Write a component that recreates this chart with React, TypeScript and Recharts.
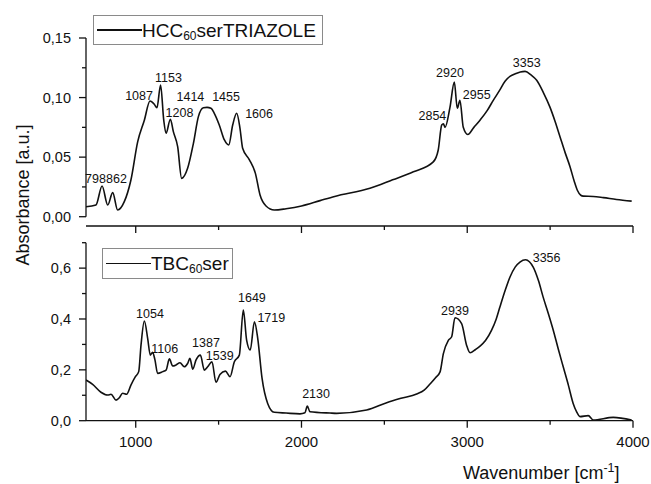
import { LineChart, Line, XAxis, YAxis, ReferenceDot, ReferenceLine } from "recharts";

// HCC60serTRIAZOLE spectrum (upper panel)
const topWavenumbers = [
  700, 760, 797, 831, 861, 891, 931, 971, 1012, 1052, 1086, 1112, 1128, 1150, 1169, 1183,
  1209, 1227, 1253, 1277, 1313, 1348, 1378, 1408, 1430, 1454, 1474, 1504, 1535, 1561, 1585,
  1609, 1629, 1645, 1685, 1722, 1750, 1786, 1836, 1907, 2000, 2112, 2200, 2413, 2550, 2675,
  2795, 2825, 2846, 2856, 2866, 2896, 2922, 2940, 2956, 2976, 3003, 3040, 3077, 3120, 3157,
  3195, 3228, 3260, 3290, 3320, 3349, 3385, 3419, 3460, 3499, 3530, 3560, 3590, 3620, 3645,
  3665, 3685, 3700, 3760, 3821, 3900, 3992,
];
const topAbsorbance = [
  0.0084, 0.0098, 0.0258, 0.0098, 0.0202, 0.0056, 0.0126, 0.0308, 0.063, 0.081, 0.0971, 0.0944,
  0.0915, 0.1106, 0.081, 0.07, 0.0818, 0.0714, 0.0588, 0.0322, 0.0406, 0.0616, 0.084, 0.0915,
  0.0918, 0.091, 0.0868, 0.077, 0.0644, 0.0602, 0.077, 0.0868, 0.0742, 0.0574, 0.048, 0.0364,
  0.0182, 0.009, 0.0056, 0.0067, 0.009, 0.0135, 0.017, 0.0238, 0.031, 0.0377, 0.046, 0.056,
  0.077, 0.078, 0.075, 0.092, 0.113, 0.091, 0.0977, 0.075, 0.069, 0.075, 0.081, 0.089, 0.0977,
  0.106, 0.1137, 0.118, 0.12, 0.1215, 0.122, 0.119, 0.1145, 0.104, 0.092, 0.08, 0.067, 0.054,
  0.042, 0.03, 0.022, 0.018, 0.0173, 0.017, 0.016, 0.0145, 0.0131,
];

// TBC60ser spectrum (lower panel)
const bottomWavenumbers = [
  700, 740, 790, 831, 851, 881, 901, 921, 945, 971, 998, 1018, 1032, 1052, 1072, 1088, 1102,
  1116, 1132, 1163, 1183, 1203, 1223, 1243, 1267, 1293, 1313, 1327, 1344, 1364, 1390, 1414,
  1434, 1460, 1484, 1508, 1541, 1569, 1595, 1625, 1649, 1669, 1691, 1716, 1736, 1762, 1796,
  1836, 1907, 1991, 2021, 2035, 2051, 2172, 2212, 2393, 2514, 2600, 2695, 2740, 2775, 2810,
  2836, 2856, 2886, 2906, 2926, 2966, 2996, 3017, 3050, 3077, 3110, 3147, 3175, 3197, 3230,
  3258, 3290, 3318, 3352, 3375, 3398, 3430, 3458, 3490, 3519, 3550, 3579, 3610, 3639, 3660,
  3680, 3730, 3760, 3881, 3992,
];
const bottomAbsorbance = [
  0.16, 0.143, 0.112, 0.101, 0.104, 0.081, 0.09, 0.108, 0.104, 0.14, 0.173, 0.193, 0.298,
  0.392, 0.324, 0.258, 0.269, 0.239, 0.186, 0.193, 0.199, 0.243, 0.215, 0.219, 0.228, 0.212,
  0.225, 0.245, 0.203, 0.239, 0.258, 0.199, 0.212, 0.232, 0.151, 0.182, 0.195, 0.173, 0.232,
  0.258, 0.435, 0.317, 0.278, 0.389, 0.324, 0.167, 0.068, 0.033, 0.03, 0.027, 0.031, 0.058,
  0.035, 0.03, 0.029, 0.042, 0.071, 0.088, 0.105, 0.12, 0.144, 0.17, 0.192, 0.264, 0.316,
  0.33, 0.405, 0.382, 0.297, 0.267, 0.28, 0.293, 0.315, 0.356, 0.4, 0.447, 0.515, 0.565,
  0.605, 0.624, 0.633, 0.625, 0.604, 0.55, 0.486, 0.42, 0.356, 0.28, 0.212, 0.14, 0.068,
  0.035, 0.016, 0.02, 0.003, 0.013, 0.003,
];

// peak annotations: [text, wavenumber, absorbance] of the label centre
const topPeaks: [string, number, number][] = [
  ["798", 757, 0.0324], ["862", 884, 0.0324], ["1087", 1020, 0.102], ["1153", 1198, 0.117],
  ["1208", 1264, 0.0874], ["1414", 1330, 0.1005], ["1455", 1545, 0.1005], ["1606", 1744, 0.0866],
  ["2854", 2790, 0.0852], ["2920", 2896, 0.1206], ["2955", 3057, 0.1025], ["3353", 3359, 0.1293],
];
const bottomPeaks: [string, number, number][] = [
  ["1054", 1086, 0.42], ["1106", 1175, 0.285], ["1387", 1424, 0.306], ["1539", 1507, 0.258],
  ["1649", 1701, 0.484], ["1719", 1818, 0.406], ["2130", 2088, 0.105], ["2939", 2926, 0.434],
  ["3356", 3479, 0.643],
];

const xTicks = [1000, 1500, 2000, 2500, 3000, 3500, 4000];
const xMajor = [1000, 2000, 3000, 4000];
const topYTicks = [0, 0.025, 0.05, 0.075, 0.1, 0.125, 0.15];
const topYMajor = [0, 0.05, 0.1, 0.15];
const bottomYTicks = [0, 0.1, 0.2, 0.3, 0.4, 0.5, 0.6, 0.7];
const bottomYMajor = [0, 0.2, 0.4, 0.6];

const FONT = "'Liberation Sans', Arial, sans-serif";
const INK = "#111";

const topData = topWavenumbers.map((wn, i) => ({ wn, a: topAbsorbance[i] }));
const bottomData = bottomWavenumbers.map((wn, i) => ({ wn, a: bottomAbsorbance[i] }));

const isMajor = (list: number[], v: number) => list.some((m) => Math.abs(m - v) < 1e-9);

function YTick(props: any) {
  const { x, y, payload, majors, digits } = props;
  const major = isMajor(majors, payload.value);
  return (
    <g>
      <line x1={x - (major ? 7 : 4)} x2={x} y1={y} y2={y} stroke={INK} strokeWidth={1.3} />
      {major && (
        <text x={x - 15} y={y} dy={5} textAnchor="end" fontSize={14.5} fill={INK} fontFamily={FONT}>
          {payload.value.toFixed(digits).replace(".", ",")}
        </text>
      )}
    </g>
  );
}

function XTick(props: any) {
  const { x, y, payload, showLabel } = props;
  const major = isMajor(xMajor, payload.value);
  return (
    <g>
      <line x1={x} x2={x} y1={y} y2={y + (major ? 7 : 4)} stroke={INK} strokeWidth={1.3} />
      {showLabel && major && (
        <text x={x} y={y + 26} textAnchor="middle" fontSize={15} fill={INK} fontFamily={FONT}>
          {payload.value}
        </text>
      )}
    </g>
  );
}

function peakDots(peaks: [string, number, number][]) {
  return peaks.map(([text, wn, a]) => (
    <ReferenceDot
      key={text}
      x={wn}
      y={a}
      r={0}
      fill="none"
      stroke="none"
      label={{ value: text, position: "center", fontSize: 12.5, fill: INK, fontFamily: FONT }}
    />
  ));
}

function LegendBox({ left, top, width, height, name, sub, rest }: any) {
  return (
    <div
      style={{
        position: "absolute",
        left,
        top,
        width,
        height,
        boxSizing: "border-box",
        border: "1px solid #8a8a8a",
        background: "#fff",
        display: "flex",
        alignItems: "center",
        fontFamily: FONT,
        fontSize: 19,
        color: INK,
      }}
    >
      <div style={{ width: 45, height: 1.6, background: INK, marginLeft: 3 }} />
      <span style={{ whiteSpace: "nowrap", lineHeight: "19px" }}>
        {name}
        <sub style={{ fontSize: 12, lineHeight: 0, verticalAlign: "-3px" }}>{sub}</sub>
        {rest}
      </span>
    </div>
  );
}

export default function App() {
  return (
    <div style={{ position: "absolute", left: 0, top: 0, width: 651, height: 484, background: "#fff" }}>
      <div style={{ position: "absolute", left: 0, top: 0 }}>
        <LineChart width={651} height={240} data={topData} margin={{ top: 38, right: 18, bottom: 4, left: 26 }}>
          <XAxis
            dataKey="wn"
            type="number"
            domain={[700, 4000]}
            ticks={xTicks}
            interval={0}
            allowDataOverflow
            height={10}
            tickSize={0}
            tickMargin={0}
            axisLine={{ stroke: INK, strokeWidth: 1.3 }}
            tick={(p: any) => <XTick {...p} showLabel={false} />}
          />
          <YAxis
            type="number"
            domain={[-0.0078, 0.15]}
            ticks={topYTicks}
            interval={0}
            allowDataOverflow
            width={60}
            tickSize={0}
            tickMargin={0}
            axisLine={false}
            tick={(p: any) => <YTick {...p} majors={topYMajor} digits={2} />}
          />
          <ReferenceLine
            segment={[{ x: 700, y: 0 }, { x: 700, y: 0.15 }]}
            stroke={INK}
            strokeWidth={1.3}
          />
          <Line
            dataKey="a"
            type="monotone"
            stroke={INK}
            strokeWidth={1.6}
            dot={false}
            isAnimationActive={false}
          />
          {peakDots(topPeaks)}
        </LineChart>
      </div>

      <div style={{ position: "absolute", left: 0, top: 230 }}>
        <LineChart width={651} height={254} data={bottomData} margin={{ top: 12.7, right: 18, bottom: 33.3, left: 26 }}>
          <XAxis
            dataKey="wn"
            type="number"
            domain={[700, 4000]}
            ticks={xTicks}
            interval={0}
            allowDataOverflow
            height={30}
            tickSize={0}
            tickMargin={0}
            axisLine={{ stroke: INK, strokeWidth: 1.3 }}
            tick={(p: any) => <XTick {...p} showLabel />}
          />
          <YAxis
            type="number"
            domain={[0, 0.7]}
            ticks={bottomYTicks}
            interval={0}
            allowDataOverflow
            width={60}
            tickSize={0}
            tickMargin={0}
            axisLine={{ stroke: INK, strokeWidth: 1.3 }}
            tick={(p: any) => <YTick {...p} majors={bottomYMajor} digits={1} />}
          />
          <Line
            dataKey="a"
            type="monotone"
            stroke={INK}
            strokeWidth={1.6}
            dot={false}
            isAnimationActive={false}
          />
          {peakDots(bottomPeaks)}
        </LineChart>
      </div>

      <LegendBox left={93} top={15} width={230} height={30} name="HCC" sub="60" rest="serTRIAZOLE" />
      <LegendBox left={102} top={248} width={131} height={31} name="TBC" sub="60" rest="ser" />

      <div
        style={{
          position: "absolute",
          left: 23,
          top: 195,
          transform: "translate(-50%, -50%) rotate(-90deg)",
          whiteSpace: "nowrap",
          fontFamily: FONT,
          fontSize: 18,
          lineHeight: "18px",
          color: INK,
        }}
      >
        Absorbance [a.u.]
      </div>
      <div
        style={{
          position: "absolute",
          left: 463,
          top: 464,
          whiteSpace: "nowrap",
          fontFamily: FONT,
          fontSize: 18,
          lineHeight: "18px",
          color: INK,
        }}
      >
        Wavenumber [cm
        <sup style={{ fontSize: 12.5, lineHeight: 0, verticalAlign: "7px" }}>-1</sup>]
      </div>
    </div>
  );
}
